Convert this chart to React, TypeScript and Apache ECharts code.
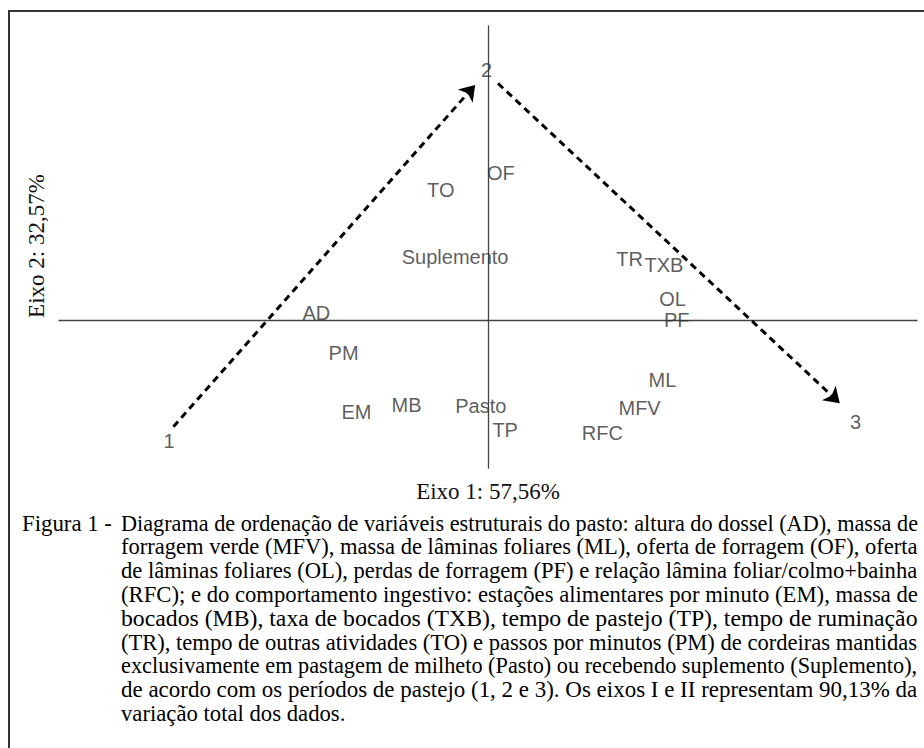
import React, { useEffect, useRef } from "react";
import * as echarts from "echarts";

// Variable / treatment labels with their coordinates on Eixo 1 and Eixo 2
const varNames = ["TO", "Suplemento", "AD", "PM", "EM", "MB", "Pasto", "OF", "TR", "TXB", "OL", "PF", "ML", "MFV", "TP", "RFC"];
const axis1 = [-0.33, -0.23, -1.2, -1.01, -0.92, -0.57, -0.05, 0.09, 0.99, 1.23, 1.29, 1.32, 1.22, 1.06, 0.12, 0.8];
const axis2 = [0.89, 0.43, 0.05, -0.22, -0.62, -0.57, -0.58, 1.0, 0.42, 0.38, 0.15, 0.005, -0.4, -0.59, -0.74, -0.76];

// Grazing periods
const periodNames = ["1", "2", "3"];
const periodX = [-2.23, -0.01, 2.57];
const periodY = [-0.82, 1.7, -0.69];

// Arrows between periods (start, end)
const arrowStart = [[-2.2, -0.72], [0.07, 1.61]];
const arrowEnd = [[-0.09, 1.6], [2.46, -0.56]];

const xTitle = "Eixo 1: 57,56%";
const yTitle = "Eixo 2: 32,57%";

const captionHead = "Figura 1 -";
const captionLines = [
  "Diagrama de ordenação de variáveis estruturais do pasto: altura do dossel (AD), massa de",
  "forragem verde (MFV), massa de lâminas foliares (ML), oferta de forragem (OF), oferta",
  "de lâminas foliares (OL), perdas de forragem (PF) e relação lâmina foliar/colmo+bainha",
  "(RFC); e do comportamento ingestivo: estações alimentares por minuto (EM), massa de",
  "bocados (MB), taxa de bocados (TXB), tempo de pastejo (TP), tempo de ruminação",
  "(TR), tempo de outras atividades (TO) e passos por minutos (PM) de cordeiras mantidas",
  "exclusivamente em pastagem de milheto (Pasto) ou recebendo suplemento (Suplemento),",
  "de acordo com os períodos de pastejo (1, 2 e 3). Os eixos I e II representam 90,13% da",
  "variação total dos dados.",
];

const SERIF = "Liberation Serif";
const SANS = "Liberation Sans";

export default function App() {
  const ref = useRef<HTMLDivElement>(null);
  useEffect(() => {
    if (!ref.current) return;
    const chart = echarts.init(ref.current, null, { renderer: "svg" });

    const capSize = 23;
    const cv = document.createElement("canvas");
    const ctx = cv.getContext("2d")!;
    ctx.font = `${capSize}px ${SERIF}`;
    const measure = (t: string) => ctx.measureText(t).width;

    const left = 121;
    const right = 918;
    const top = 523;
    const step = 23.8;
    const scales: number[] = [];
    captionLines.forEach((l, i) => {
      if (i < captionLines.length - 1) scales.push((right - left) / measure(l));
    });
    const avg = scales.reduce((a, b) => a + b, 0) / scales.length;
    const headScale = Math.min(1.2, 90 / measure(captionHead));

    const capStyle = (text: string) => ({
      text,
      fontFamily: SERIF,
      fontSize: capSize,
      fill: "#000",
      textAlign: "left",
      textVerticalAlign: "middle",
    });

    const graphics: any[] = [
      {
        type: "rect",
        z: 0,
        shape: { x: 9, y: 11, width: 960, height: 780 },
        style: { fill: "none", stroke: "#333", lineWidth: 2 },
      },
      {
        type: "text",
        x: 488,
        y: 491,
        style: { text: xTitle, fontFamily: SERIF, fontSize: 23, fill: "#111", textAlign: "center", textVerticalAlign: "middle" },
      },
      {
        type: "text",
        x: 36,
        y: 246,
        rotation: Math.PI / 2,
        style: { text: yTitle, fontFamily: SERIF, fontSize: 23, fill: "#111", textAlign: "center", textVerticalAlign: "middle" },
      },
      {
        type: "text",
        x: 22,
        y: top,
        scaleX: headScale,
        style: capStyle(captionHead),
      },
    ];
    captionLines.forEach((l, i) => {
      graphics.push({
        type: "text",
        x: left,
        y: top + i * step,
        scaleX: i < captionLines.length - 1 ? scales[i] : avg,
        style: capStyle(l),
      });
    });

    const axisCommon = {
      type: "value" as const,
      axisLine: { show: true, onZero: true, lineStyle: { color: "#444", width: 1.3 } },
      axisTick: { show: false },
      axisLabel: { show: false },
      splitLine: { show: false },
    };

    const labelStyle = {
      show: true,
      position: "inside" as const,
      formatter: "{b}",
      fontFamily: SANS,
      fontSize: 20,
      color: "#333",
    };

    chart.setOption({
      animation: false,
      grid: { left: 59, right: 7, top: 26, bottom: 280 },
      xAxis: { ...axisCommon, min: -3, max: 3 },
      yAxis: { ...axisCommon, min: -1, max: 2 },
      series: [
        {
          type: "lines",
          coordinateSystem: "cartesian2d",
          symbol: ["none", "arrow"],
          symbolSize: 15,
          lineStyle: { color: "#000", width: 3, type: [7, 5], opacity: 1 },
          data: arrowStart.map((s, i) => ({ coords: [s, arrowEnd[i]] })),
          z: 3,
        },
        {
          type: "scatter",
          symbolSize: 0,
          data: varNames.map((n, i) => ({ name: n, value: [axis1[i], axis2[i]] })),
          label: labelStyle,
          z: 4,
        },
        {
          type: "scatter",
          symbolSize: 0,
          data: periodNames.map((n, i) => ({ name: n, value: [periodX[i], periodY[i]] })),
          label: labelStyle,
          z: 4,
        },
      ],
      graphic: graphics,
    });

    return () => chart.dispose();
  }, []);

  return (
    <div
      ref={ref}
      style={{ position: "fixed", left: 0, top: 0, width: 924, height: 748, background: "#fff" }}
    />
  );
}
